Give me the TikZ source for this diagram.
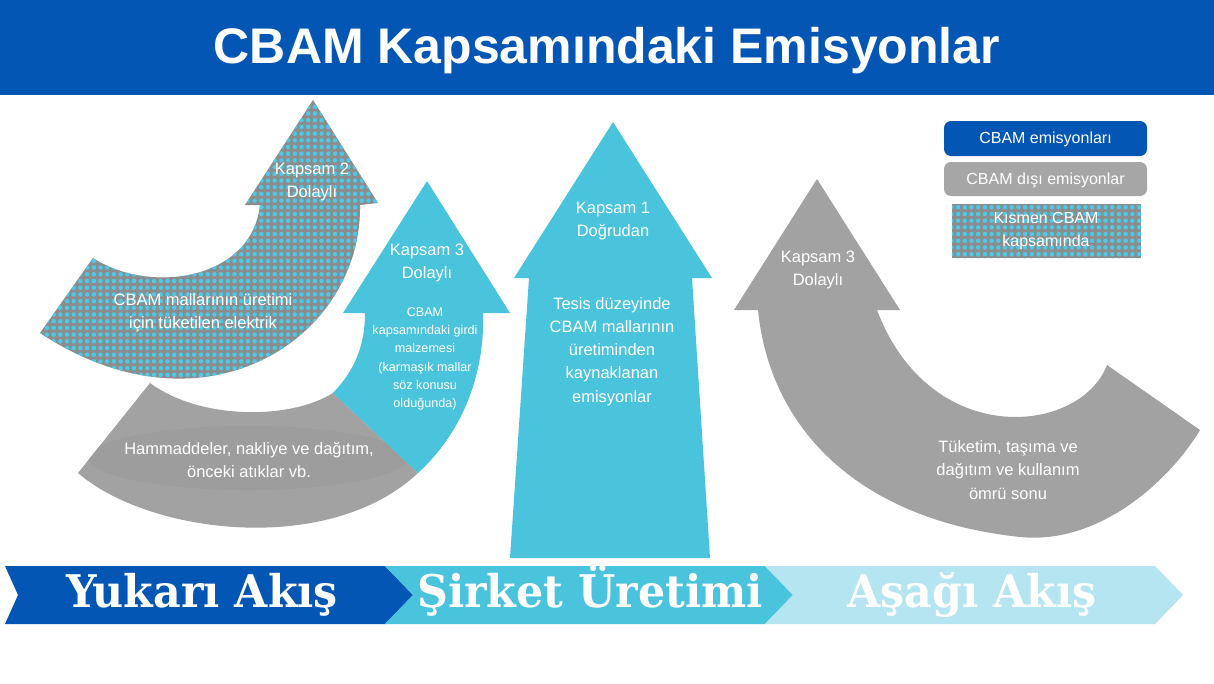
\documentclass[tikz,border=0pt]{standalone}
\usepackage{fontspec}
\setmainfont{Liberation Sans}
\newfontfamily\chevfont{DejaVu Serif}[FakeStretch=0.95]
\usetikzlibrary{patterns.meta}
\definecolor{hblue}{HTML}{0456B4}
\definecolor{acyan}{HTML}{4AC3DC}
\definecolor{agray}{HTML}{A2A2A2}
\definecolor{shgray}{HTML}{9D9D9D}
\definecolor{lgray}{HTML}{A6A6A6}
\definecolor{patgray}{HTML}{8C8C8C}
\definecolor{dotcyan}{HTML}{4DC8E5}
\definecolor{lcyan}{HTML}{B5E5F1}
\tikzset{
  dotfill/.style={preaction={fill=patgray}, pattern={Dots[radius=2.3pt,distance=6.7pt]}, pattern color=dotcyan},
  lbl/.style={text=white, align=center, inner sep=0pt, font=\fontsize{16.5}{23.2}\selectfont},
  smalllbl/.style={text=white, align=center, inner sep=0pt, font=\fontsize{12.6}{18.3}\selectfont},
  chevtext/.style={text=white, anchor=base, inner sep=0pt, font=\chevfont\bfseries\fontsize{45}{50}\selectfont},
  legbox/.style={rounded corners=7pt, draw=none},
}
\begin{document}
\begin{tikzpicture}[x=1pt,y=-1pt]
\useasboundingbox (0,0) rectangle (1214,683);
\fill[white] (0,0) rectangle (1214,683);
% header
\fill[hblue] (0,0) rectangle (1214,95);
\node[text=white, font=\bfseries\fontsize{50}{55}\selectfont] (title) at (607,51) {CBAM Kapsamındaki Emisyonlar};

% Kapsam 2 patterned curved arrow
\path[dotfill] (40,333) -- (93,258) .. controls (150,295) and (252,280) .. (260,205)
  -- (245,205) -- (313,100) -- (378,203) -- (360,205)
  .. controls (362,338) and (205,442) .. (40,333) -- cycle;

% Kapsam 3 upstream: gray tail part
\fill[agray] (78,473) .. controls (150,535) and (330,556) .. (418,473)
  -- (333,393) .. controls (290,420) and (200,420) .. (150,383) -- cycle;
\begin{scope}
  \clip (78,473) .. controls (150,535) and (330,556) .. (418,473)
    -- (333,393) .. controls (290,420) and (200,420) .. (150,383) -- cycle;
  \fill[shgray] (248,458) ellipse [x radius=160, y radius=32];
\end{scope}
% cyan part
\fill[acyan] (333,393) -- (418,473) .. controls (465,430) and (485,370) .. (483,313)
  -- (510,313) -- (427,181) -- (343,313) -- (365,313)
  .. controls (365,345) and (355,370) .. (333,393) -- cycle;

% Kapsam 1 central arrow
\fill[acyan] (510,558) -- (529,278) -- (514,278) -- (613,122) -- (712,278) -- (692,278) -- (710,558) -- cycle;

% downstream gray arrow
\fill[agray] (758,310) .. controls (770,430) and (860,520) .. (1020,537)
  .. controls (1100,545) and (1170,480) .. (1200,430)
  -- (1107,365) .. controls (1080,435) and (930,450) .. (877,310)
  -- (900,310) -- (817,179) -- (734,310) -- cycle;

% labels
\node[lbl] (k2) at (312,182) {Kapsam 2\\Dolaylı};
\node[lbl] (elec) at (203,313) {CBAM mallarının üretimi\\için tüketilen elektrik};
\node[lbl] (k3u) at (427,263) {Kapsam 3\\Dolaylı};
\node[smalllbl] (girdi) at (425,359) {CBAM\\kapsamındaki girdi\\malzemesi\\(karmaşık mallar\\söz konusu\\olduğunda)};
\node[lbl] (ham) at (249,460) {Hammaddeler, nakliye ve dağıtım,\\önceki atıklar vb.};
\node[lbl] (k1) at (613,221) {Kapsam 1\\Doğrudan};
\node[lbl] (tesis) at (612,351.5) {Tesis düzeyinde\\CBAM mallarının\\üretiminden\\kaynaklanan\\emisyonlar};
\node[lbl] (k3d) at (818,270) {Kapsam 3\\Dolaylı};
\node[lbl] (tuk) at (1008,470) {Tüketim, taşıma ve\\dağıtım ve kullanım\\ömrü sonu};

% legend
\fill[hblue, legbox] (944,121) rectangle (1147,156);
\node[lbl, font=\fontsize{16}{22}\selectfont] (leg1) at (1045.5,139.5) {CBAM emisyonları};
\fill[lgray, legbox] (944,162) rectangle (1147,196);
\node[lbl, font=\fontsize{16}{22}\selectfont] (leg2) at (1045.5,180) {CBAM dışı emisyonlar};
\path[dotfill] (952,204) rectangle (1141,258);
\node[lbl, font=\fontsize{16}{23}\selectfont] (leg3) at (1046,231) {Kısmen CBAM\\kapsamında};

% bottom chevrons
\fill[hblue] (5,566) -- (385,566) -- (413,595) -- (385,624) -- (5,624) -- (18,595) -- cycle;
\fill[acyan] (385,566) -- (765,566) -- (793,595) -- (765,624) -- (385,624) -- (413,595) -- cycle;
\fill[lcyan] (765,566) -- (1155,566) -- (1183,595) -- (1155,624) -- (765,624) -- (793,595) -- cycle;
\node[chevtext] (c1) at (202,607) {Yukarı Akış};
\node[chevtext] (c2) at (590,607) {Şirket Üretimi};
\node[chevtext] (c3) at (972,607) {Aşağı Akış};
\end{tikzpicture}
\end{document}
